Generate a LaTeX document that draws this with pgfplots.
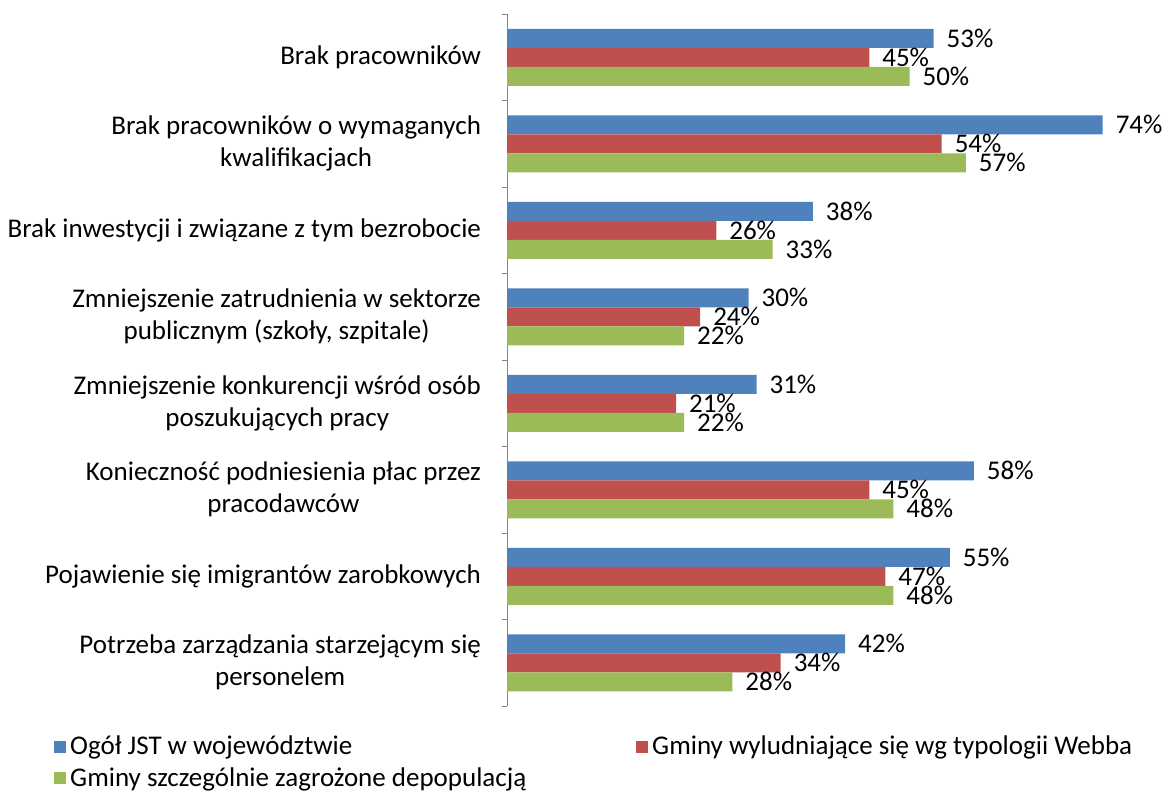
\documentclass[border=0pt]{standalone}
\usepackage{fontspec}
\setmainfont{Carlito}
\usepackage{pgfplots}
\pgfplotsset{compat=1.18}
\definecolor{cblue}{HTML}{4F81BD}
\definecolor{cred}{HTML}{C0504D}
\definecolor{cgreen}{HTML}{9BBB59}
\definecolor{caxis}{HTML}{868686}
\pgfplotsset{myleg/.style={legend image code/.code={\fill[##1] (0pt,-3pt) rectangle (6pt,3pt);}}}
\begin{document}
\begin{tikzpicture}[font=\fontsize{13.5}{16}\selectfont]
\useasboundingbox (0,0) rectangle (586pt,396.5pt);
\begin{axis}[
  at={(253.5pt,43.5pt)}, anchor=south west,
  scale only axis, width=322pt, height=346pt,
  xbar, bar width=9.5pt,
  xmin=0, xmax=80,
  ymin=-0.5, ymax=7.5,
  axis x line=none, axis y line*=left,
  axis line style={draw=caxis},
  ytick={0,...,7},
  yticklabels={
    {Potrzeba zarządzania starzejącym się\\personelem},
    {Pojawienie się imigrantów zarobkowych},
    {Konieczność podniesienia płac przez\\pracodawców},
    {Zmniejszenie konkurencji wśród osób\\poszukujących pracy},
    {Zmniejszenie zatrudnienia w sektorze\\publicznym (szkoły, szpitale)},
    {Brak inwestycji i związane z tym bezrobocie},
    {Brak pracowników o wymaganych\\kwalifikacjach},
    {Brak pracowników}},
  yticklabel style={align=center, xshift=-9.5pt, font=\fontsize{13.5}{16}\selectfont},
  major tick length=0pt,
  minor ytick={-0.5,0.5,...,7.5},
  minor tick length=2.5pt,
  tick align=outside,
  minor tick style={draw=caxis},
  /pgf/number format/assume math mode=true,
  nodes near coords={\pgfmathprintnumber[precision=0]{\pgfplotspointmeta}\%},
  nodes near coords style={anchor=west, xshift=3pt, font=\fontsize{13.5}{16}\selectfont},
  legend style={at={(-0.713,-0.031)}, anchor=north west, draw=none, legend columns=2,
    font=\fontsize{13.5}{16}\selectfont, row sep=1pt,
    /tikz/every even column/.append style={column sep=0pt}},
  legend cell align=left,
  clip=false,
]
\addplot[fill=cblue, draw=none, bar shift=9.5pt, myleg] coordinates {
(42,0) (55,1) (58,2) (31,3) (30,4) (38,5) (74,6) (53,7)};
\addlegendentry{\makebox[281pt][l]{Ogół JST w województwie}}
\addplot[fill=cred, draw=none, bar shift=0pt, myleg] coordinates {
(34,0) (47,1) (45,2) (21,3) (24,4) (26,5) (54,6) (45,7)};
\addlegendentry{Gminy wyludniające się wg typologii Webba}
\addplot[fill=cgreen, draw=none, bar shift=-9.5pt, myleg] coordinates {
(28,0) (48,1) (48,2) (22,3) (22,4) (33,5) (57,6) (50,7)};
\addlegendentry{\makebox[281pt][l]{Gminy szczególnie zagrożone depopulacją}}
\end{axis}
\end{tikzpicture}
\end{document}
